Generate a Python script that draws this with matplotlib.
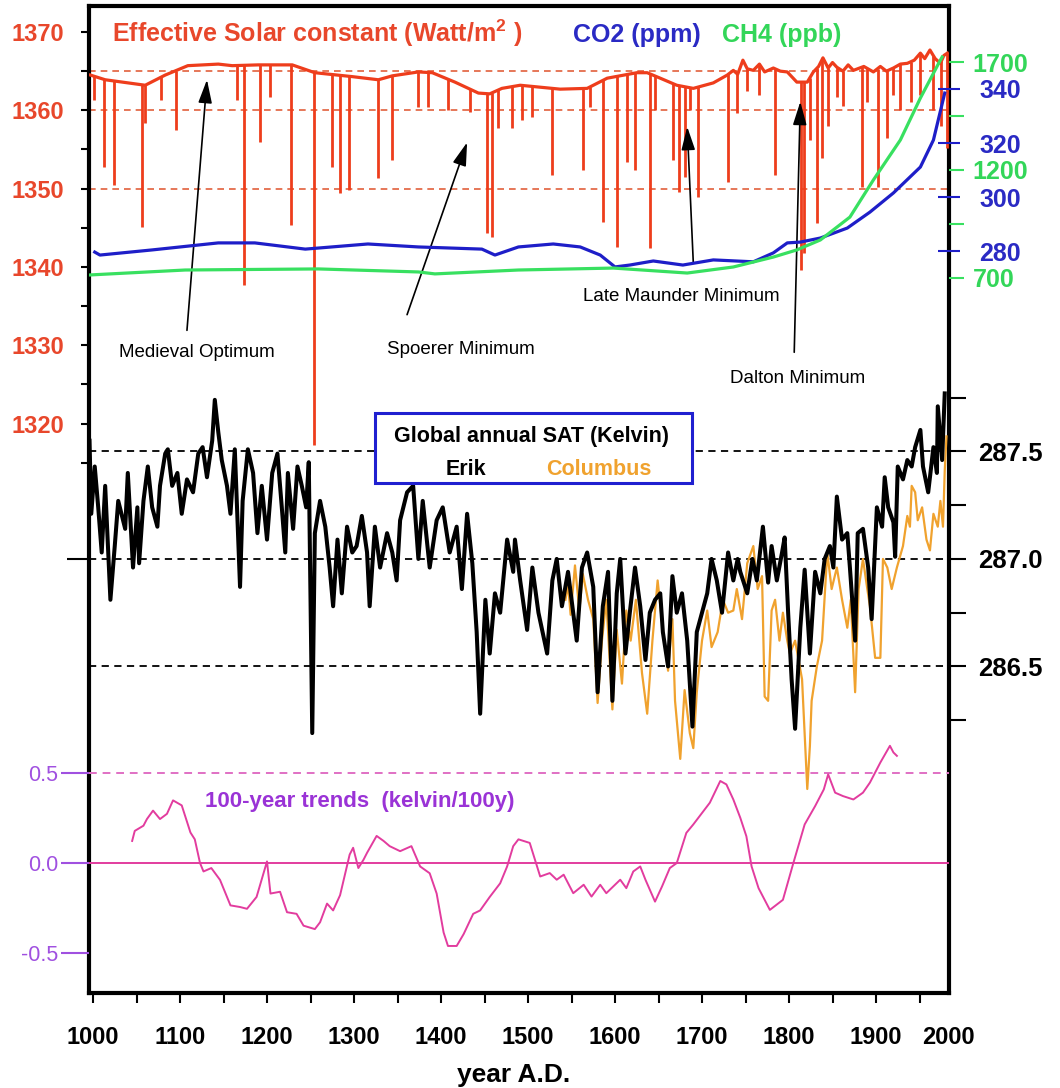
import numpy as np
import matplotlib
matplotlib.use('Agg')
import matplotlib.pyplot as plt
from matplotlib.patches import Rectangle

plt.rcParams['font.family'] = ['Liberation Sans', 'DejaVu Sans']
plt.rcParams['mathtext.fontset'] = 'custom'
plt.rcParams['mathtext.rm'] = 'Liberation Sans'
plt.rcParams['mathtext.bf'] = 'Liberation Sans:bold'

# effective solar constant (W/m2), smooth part
sol_years = [997, 1014, 1060, 1083, 1109, 1144, 1160, 1190, 1229, 1255,
             1298, 1328, 1344, 1374, 1390, 1416, 1443, 1456, 1470, 1491,
             1537, 1568, 1591, 1625, 1637, 1652, 1671, 1690, 1713, 1729,
             1736, 1741, 1747, 1752, 1759, 1766, 1772, 1782, 1790, 1798,
             1809, 1821, 1828, 1834, 1839, 1845, 1850, 1855, 1862, 1868,
             1874, 1886, 1897, 1905, 1912, 1920, 1928, 1936, 1944, 1951,
             1956, 1962, 1968, 1974, 1978, 1982]
sol_vals = [1364.5, 1363.9, 1363.2, 1364.5, 1365.7, 1365.9, 1365.7, 1365.8, 1365.8, 1364.8,
            1364.3, 1363.9, 1364.4, 1364.9, 1364.8, 1363.6, 1362.2, 1362.1, 1362.8, 1363.2,
            1362.7, 1362.8, 1364.1, 1364.8, 1364.8, 1364.1, 1363.2, 1362.8, 1363.5, 1364.5,
            1365.1, 1364.6, 1366.4, 1365.3, 1365.1, 1365.9, 1364.9, 1365.4, 1365.0, 1364.9,
            1363.6, 1363.6, 1364.9, 1365.6, 1366.7, 1365.4, 1366.1, 1365.5, 1365.0, 1365.8,
            1365.1, 1365.6, 1364.9, 1365.6, 1365.0, 1365.4, 1365.9, 1366.0, 1366.4, 1367.3,
            1366.6, 1367.7, 1366.6, 1366.0, 1367.0, 1367.3]

# volcanic dips in the solar constant
spike_years = [1001, 1013, 1024, 1056, 1060, 1078, 1095, 1166, 1174, 1192,
               1203, 1228, 1254, 1275, 1284, 1294, 1328, 1344, 1374, 1385,
               1408, 1433, 1453, 1459, 1466, 1482, 1493, 1505, 1528, 1563,
               1571, 1586, 1602, 1614, 1623, 1640, 1646, 1667, 1674, 1680,
               1686, 1695, 1730, 1740, 1752, 1765, 1784, 1814, 1817, 1824,
               1832, 1838, 1845, 1855, 1862, 1884, 1890, 1902, 1913, 1920,
               1928, 1940, 1950, 1966, 1975, 1982]
spike_bottom = [1361.3, 1352.8, 1350.5, 1345.1, 1358.4, 1361.3, 1357.5, 1361.3, 1337.7, 1356.0,
                1361.7, 1345.4, 1317.3, 1352.8, 1349.4, 1349.8, 1351.4, 1353.7, 1360.4, 1360.4,
                1360.0, 1359.8, 1344.3, 1343.8, 1357.7, 1357.7, 1358.8, 1359.1, 1351.7, 1352.4,
                1360.4, 1345.7, 1342.5, 1353.4, 1352.4, 1342.4, 1360.0, 1353.7, 1349.6, 1351.5,
                1360.0, 1348.9, 1350.8, 1359.7, 1362.5, 1362.0, 1351.7, 1339.6, 1341.8, 1356.2,
                1345.6, 1353.9, 1358.0, 1361.7, 1360.5, 1350.2, 1361.0, 1350.2, 1356.5, 1362.0,
                1360.0, 1361.0, 1362.0, 1360.0, 1358.0, 1355.2]

# CO2 (ppm)
co2_years = [1002, 1008, 1068, 1144, 1186, 1244, 1316, 1374, 1447, 1462,
             1489, 1529, 1560, 1583, 1600, 1617, 1644, 1678, 1713, 1759,
             1782, 1798, 1813, 1836, 1867, 1893, 1920, 1951, 1966, 1979]
co2_vals = [279.6, 278.5, 280.4, 283.0, 283.0, 280.7, 282.6, 281.5, 280.7, 278.5,
            281.5, 282.6, 281.5, 278.5, 274.1, 274.8, 276.3, 274.8, 276.7, 276.0,
            279.3, 283.0, 283.3, 284.8, 288.5, 294.4, 301.5, 311.1, 321.1, 338.5]

# CH4 (ppb)
ch4_years = [996, 1106, 1259, 1374, 1393, 1489, 1598, 1683, 1736, 1782,
             1809, 1836, 1870, 1897, 1928, 1951, 1974, 1976]
ch4_vals = [714, 737, 742, 728, 719, 737, 746, 723, 751, 797,
            830, 876, 982, 1154, 1339, 1533, 1709, 1723]

# global annual SAT (K), Erik run
erik_years = [996, 998, 1002, 1006, 1010, 1014, 1020, 1025, 1029, 1037,
              1040, 1046, 1051, 1053, 1058, 1063, 1068, 1074, 1077, 1083,
              1086, 1091, 1097, 1102, 1108, 1115, 1121, 1126, 1131, 1137,
              1140, 1144, 1148, 1154, 1158, 1163, 1169, 1172, 1178, 1184,
              1189, 1194, 1200, 1206, 1212, 1217, 1221, 1224, 1230, 1235,
              1240, 1245, 1248, 1252, 1255, 1261, 1267, 1272, 1276, 1281,
              1286, 1292, 1298, 1303, 1309, 1315, 1318, 1324, 1330, 1338,
              1344, 1349, 1353, 1361, 1368, 1374, 1379, 1387, 1395, 1402,
              1410, 1418, 1424, 1430, 1436, 1441, 1445, 1451, 1456, 1462,
              1468, 1476, 1483, 1485, 1491, 1499, 1505, 1512, 1522, 1528,
              1533, 1539, 1546, 1556, 1562, 1568, 1575, 1580, 1586, 1592,
              1597, 1602, 1606, 1612, 1617, 1623, 1629, 1635, 1640, 1646,
              1652, 1655, 1661, 1666, 1671, 1677, 1683, 1689, 1694, 1700,
              1706, 1711, 1717, 1723, 1730, 1736, 1741, 1744, 1752, 1758,
              1763, 1770, 1776, 1780, 1786, 1792, 1795, 1799, 1803, 1807,
              1813, 1818, 1824, 1830, 1836, 1841, 1847, 1851, 1855, 1861,
              1867, 1870, 1876, 1879, 1885, 1891, 1895, 1901, 1907, 1910,
              1914, 1920, 1922, 1925, 1931, 1936, 1941, 1945, 1951, 1954,
              1960, 1966, 1970, 1971, 1976, 1979]
erik_temp = [287.55, 287.21, 287.43, 287.24, 287.03, 287.34, 286.81, 287.06, 287.27, 287.14,
             287.40, 286.96, 287.24, 286.98, 287.27, 287.43, 287.24, 287.15, 287.34, 287.49,
             287.51, 287.34, 287.40, 287.21, 287.37, 287.31, 287.49, 287.52, 287.38, 287.55,
             287.74, 287.59, 287.46, 287.34, 287.21, 287.51, 286.87, 287.27, 287.51, 287.40,
             287.12, 287.34, 287.09, 287.40, 287.49, 287.24, 287.03, 287.40, 287.14, 287.43,
             287.34, 287.24, 287.45, 286.19, 287.12, 287.27, 287.15, 286.96, 286.78, 287.09,
             286.84, 287.15, 287.03, 287.06, 287.20, 287.03, 286.78, 287.15, 286.96, 287.12,
             287.03, 286.90, 287.18, 287.31, 287.34, 287.00, 287.27, 286.96, 287.18, 287.24,
             287.03, 287.15, 286.86, 287.21, 286.98, 286.66, 286.28, 286.81, 286.56, 286.84,
             286.75, 287.09, 286.94, 287.09, 286.90, 286.67, 286.96, 286.75, 286.56, 286.90,
             287.00, 286.78, 286.94, 286.62, 286.96, 287.03, 286.87, 286.38, 286.78, 286.94,
             286.34, 286.84, 287.00, 286.56, 286.75, 286.96, 286.78, 286.53, 286.75, 286.81,
             286.84, 286.66, 286.50, 286.92, 286.75, 286.84, 286.62, 286.22, 286.66, 286.75,
             286.84, 287.00, 286.90, 286.75, 287.03, 286.90, 287.00, 286.94, 286.84, 287.00,
             286.90, 287.15, 286.89, 287.06, 286.90, 287.03, 287.10, 286.75, 286.44, 286.21,
             286.68, 286.95, 286.56, 286.94, 286.84, 287.00, 287.06, 286.96, 287.29, 287.09,
             287.12, 286.96, 286.62, 287.12, 287.14, 286.96, 286.72, 287.24, 287.15, 287.38,
             287.24, 287.17, 287.01, 287.43, 287.37, 287.46, 287.43, 287.52, 287.60, 287.43,
             287.31, 287.52, 287.40, 287.71, 287.46, 287.77]

# global annual SAT (K), Columbus run
col_years = [1543, 1546, 1549, 1554, 1559, 1563, 1569, 1575, 1580, 1585,
             1590, 1597, 1602, 1608, 1613, 1618, 1624, 1631, 1637, 1643,
             1649, 1655, 1661, 1666, 1669, 1675, 1680, 1686, 1690, 1694,
             1700, 1706, 1711, 1718, 1724, 1730, 1736, 1740, 1746, 1752,
             1759, 1764, 1769, 1772, 1776, 1780, 1784, 1789, 1793, 1798,
             1801, 1807, 1815, 1821, 1824, 1826, 1832, 1838, 1844, 1849,
             1855, 1861, 1867, 1871, 1876, 1880, 1885, 1890, 1893, 1899,
             1905, 1908, 1913, 1918, 1924, 1931, 1936, 1939, 1941, 1945,
             1948, 1953, 1958, 1962, 1966, 1971, 1974, 1977, 1979, 1981]
col_temp = [286.81, 286.88, 286.74, 286.97, 286.76, 286.93, 286.81, 286.72, 286.33, 286.62,
            286.81, 286.30, 286.67, 286.42, 286.76, 286.62, 286.81, 286.47, 286.28, 286.62,
            286.90, 286.67, 286.48, 286.72, 286.34, 286.07, 286.39, 286.19, 286.12, 286.38,
            286.62, 286.76, 286.59, 286.66, 286.81, 286.75, 286.76, 286.86, 286.72, 286.98,
            287.06, 286.86, 286.92, 286.36, 286.34, 286.76, 286.81, 286.62, 286.75, 286.62,
            286.56, 286.62, 286.44, 285.93, 286.13, 286.34, 286.50, 286.62, 287.03, 286.86,
            286.96, 286.81, 286.68, 286.81, 286.38, 286.86, 287.00, 286.86, 286.78, 286.54,
            286.54, 287.00, 286.96, 286.86, 286.96, 287.06, 287.20, 287.15, 287.34, 287.31,
            287.18, 287.24, 287.09, 287.04, 287.21, 287.15, 287.27, 287.15, 287.41, 287.57]

# 100-year trends (K/100y)
trend_years = [1045, 1048, 1058, 1062, 1069, 1077, 1085, 1092, 1102, 1112,
               1117, 1123, 1127, 1136, 1146, 1158, 1169, 1177, 1188, 1200,
               1204, 1215, 1223, 1234, 1242, 1255, 1261, 1269, 1276, 1284,
               1295, 1299, 1305, 1311, 1315, 1326, 1334, 1341, 1353, 1366,
               1376, 1387, 1395, 1403, 1408, 1418, 1426, 1437, 1445, 1456,
               1468, 1476, 1483, 1489, 1502, 1514, 1525, 1533, 1541, 1552,
               1564, 1573, 1583, 1590, 1606, 1613, 1621, 1629, 1635, 1646,
               1654, 1663, 1671, 1682, 1690, 1709, 1721, 1728, 1736, 1744,
               1751, 1757, 1765, 1778, 1793, 1805, 1818, 1830, 1840, 1845,
               1853, 1862, 1874, 1885, 1893, 1905, 1916, 1920, 1924]
trend_vals = [0.123, 0.179, 0.208, 0.245, 0.292, 0.245, 0.274, 0.349, 0.321, 0.170,
              0.132, 0.0, -0.047, -0.028, -0.094, -0.236, -0.245, -0.255, -0.189, 0.009,
              -0.170, -0.160, -0.274, -0.283, -0.349, -0.368, -0.330, -0.226, -0.264, -0.179,
              0.047, 0.085, -0.028, 0.019, 0.057, 0.151, 0.123, 0.094, 0.066, 0.094,
              -0.019, -0.057, -0.170, -0.387, -0.462, -0.462, -0.396, -0.283, -0.264, -0.189,
              -0.113, -0.019, 0.094, 0.132, 0.112, -0.075, -0.056, -0.093, -0.065, -0.168,
              -0.121, -0.187, -0.121, -0.168, -0.093, -0.140, -0.047, -0.019, -0.093, -0.215,
              -0.131, -0.028, 0.0, 0.168, 0.215, 0.336, 0.457, 0.438, 0.354, 0.252,
              0.149, -0.019, -0.140, -0.261, -0.205, 0.0, 0.215, 0.317, 0.410, 0.494,
              0.392, 0.373, 0.354, 0.392, 0.448, 0.560, 0.653, 0.616, 0.597]

RED = '#ee3d1c'
RED_TXT = '#e8472b'
BLUE = '#1e1ec8'
BLUE_TXT = '#2a2ac4'
GREEN = '#38e060'
GREEN_TXT = '#33d659'
ORANGE = '#f0a22e'
PINK = '#e23c9e'
PURPLE = '#9a33d6'
PURPLE_LT = '#a050e0'

fig = plt.figure(figsize=(10.6, 10.88), dpi=100)
pos = [89 / 1060, 95 / 1088, 860 / 1060, 987 / 1088]
ax = fig.add_axes(pos)
ax.set_xlim(995.4, 1983.9)
ax.set_ylim(1247.27, 1373.32)
for s in ax.spines.values():
    s.set_linewidth(3)


def overlay(lo, hi):
    a = fig.add_axes(pos, sharex=ax)
    a.set_ylim(lo, hi)
    a.patch.set_visible(False)
    for s in a.spines.values():
        s.set_visible(False)
    a.tick_params(axis='x', which='both', bottom=False, labelbottom=False)
    a.tick_params(axis='y', which='both', left=False, right=False,
                  labelleft=False, labelright=False)
    return a


# solar constant
for lev in [1365, 1360, 1350]:
    ax.axhline(lev, color='#e2603c', lw=1.2, ls=(0, (4, 3)), zorder=1)
ax.plot(sol_years, sol_vals, color=RED, lw=2.3, zorder=3)
tops = np.interp(spike_years, sol_years, sol_vals)
ax.vlines(spike_years, spike_bottom, tops, color=RED, lw=2.0, zorder=3)

ax.set_yticks(np.arange(1320, 1371, 10))
ax.set_yticks(np.arange(1315, 1370, 10), minor=True)
ax.tick_params(axis='y', which='both', direction='out', length=6, width=1.5,
               color='black', labelcolor=RED_TXT, labelsize=17, pad=12)
ax.set_xticks(np.arange(1000, 1901, 100))
ax.set_xticks(np.arange(1050, 1951, 100), minor=True)
ax.tick_params(axis='x', which='both', direction='out', length=7, width=1.5,
               labelsize=17, pad=17)
for lab in ax.get_xticklabels() + ax.get_yticklabels():
    lab.set_fontweight('bold')
fig.text(948 / 1060, 1 - 1026 / 1088, '2000', ha='center', va='top',
         fontsize=17, fontweight='bold')

arrow = dict(arrowstyle='-|>,head_length=0.95,head_width=0.28', color='black',
             lw=1.2, shrinkA=0, shrinkB=0, mutation_scale=15)
ax.annotate('', xy=(1131, 1363.9), xytext=(1108, 1331.9), arrowprops=arrow)
ax.annotate('', xy=(1430, 1355.9), xytext=(1361, 1333.9), arrowprops=arrow)
ax.annotate('', xy=(1683, 1357.9), xytext=(1690, 1340.5), arrowprops=arrow)
ax.annotate('', xy=(1813, 1361.1), xytext=(1806, 1329.1), arrowprops=arrow)
ax.text(1119, 1329.1, 'Medieval Optimum', ha='center', va='center', fontsize=13.5)
ax.text(1423, 1329.4, 'Spoerer Minimum', ha='center', va='center', fontsize=13.5)
ax.text(1676, 1336.2, 'Late Maunder Minimum', ha='center', va='center', fontsize=13.5)
ax.text(1810, 1325.8, 'Dalton Minimum', ha='center', va='center', fontsize=13.5)

# CO2
ax_c = overlay(5.19, 370.74)
ax_c.plot(co2_years, co2_vals, color=BLUE, lw=2.3)
ax_c.set_yticks([280, 300, 320, 340])
ax_c.tick_params(axis='y', right=True, labelright=True, direction='inout',
                 length=16, width=1.5, color=BLUE, labelcolor=BLUE_TXT,
                 labelsize=18, pad=14)

# CH4
ax_m = overlay(-2610.19, 1959.26)
ax_m.plot(ch4_years, ch4_vals, color=GREEN, lw=2.3)
ax_m.set_yticks([700, 950, 1200, 1450, 1700], ['700', '', '1200', '', '1700'])
ax_m.tick_params(axis='y', right=True, labelright=True, direction='out',
                 length=11, width=1.5, color=GREEN, labelcolor=GREEN_TXT,
                 labelsize=18, pad=6)

# temperature
ax_t = overlay(284.981, 289.572)
for lev in [286.5, 287.0, 287.5]:
    ax_t.axhline(lev, color='black', lw=1.3, ls=(0, (4, 3)), zorder=1)
ax_t.plot(col_years, col_temp, color=ORANGE, lw=1.6, zorder=2)
ax_t.plot(erik_years, erik_temp, color='black', lw=2.9, zorder=3)
ax_t.set_yticks(np.arange(286.25, 287.8, 0.25),
                ['', '286.5', '', '287.0', '', '287.5', ''])
ax_t.tick_params(axis='y', right=True, labelright=True, direction='out',
                 length=12, width=1.5, color='black', labelsize=18.5, pad=9)
for lab in ax_c.get_yticklabels() + ax_m.get_yticklabels() + ax_t.get_yticklabels():
    lab.set_fontweight('bold')
ax_t.add_patch(Rectangle((0.3326, 0.5167), 0.3686, 0.0709, transform=ax_t.transAxes,
                         facecolor='white', edgecolor='#2020d0', lw=2.2, zorder=5))
ax_t.text(0.514, 0.5583, 'Global annual SAT (Kelvin)', transform=ax_t.transAxes,
          ha='center', va='baseline', fontsize=15.5, fontweight='bold', zorder=6)
ax_t.text(0.4384, 0.5248, 'Erik', transform=ax_t.transAxes, ha='center',
          va='baseline', fontsize=15.5, fontweight='bold', zorder=6)
ax_t.text(0.593, 0.5248, 'Columbus', transform=ax_t.transAxes, ha='center',
          va='baseline', fontsize=15.5, fontweight='bold', color=ORANGE, zorder=6)

ax_tl = overlay(284.981, 289.572)
ax_tl.set_yticks([287.0])
ax_tl.tick_params(axis='y', left=True, labelleft=False, direction='out',
                  length=16, width=1.5, color='black')

# 100-year trends
ax_r = overlay(-0.724, 4.774)
ax_r.axhline(0.5, color='#e070c4', lw=1.4, ls=(0, (4, 3)))
ax_r.axhline(0.0, color=PINK, lw=1.4)
ax_r.plot(trend_years, trend_vals, color=PINK, lw=1.4)
ax_r.set_yticks([-0.5, 0.0, 0.5], ['-0.5', '0.0', '0.5'])
ax_r.tick_params(axis='y', left=True, labelleft=True, direction='out',
                 length=20, width=1.5, color=PURPLE_LT, labelcolor=PURPLE_LT,
                 labelsize=15.5, pad=2)

# titles
fig.text(112 / 1060, 1 - 42 / 1088, r'Effective Solar constant (Watt/m$^{\mathbf{2}}$ )',
         color=RED_TXT, fontsize=18, fontweight='bold', va='baseline')
fig.text(573 / 1060, 1 - 42 / 1088, 'CO2 (ppm)', color=BLUE_TXT, fontsize=18,
         fontweight='bold', va='baseline')
fig.text(722 / 1060, 1 - 42 / 1088, 'CH4 (ppb)', color=GREEN_TXT, fontsize=18,
         fontweight='bold', va='baseline')
fig.text(205 / 1060, 1 - 807 / 1088, '100-year trends  (kelvin/100y)', color=PURPLE,
         fontsize=16, fontweight='bold', va='baseline')
fig.text(514 / 1060, 1 - 1082 / 1088, 'year A.D.', ha='center', va='baseline',
         fontsize=19, fontweight='bold')

fig.savefig('out.png', dpi=100)
